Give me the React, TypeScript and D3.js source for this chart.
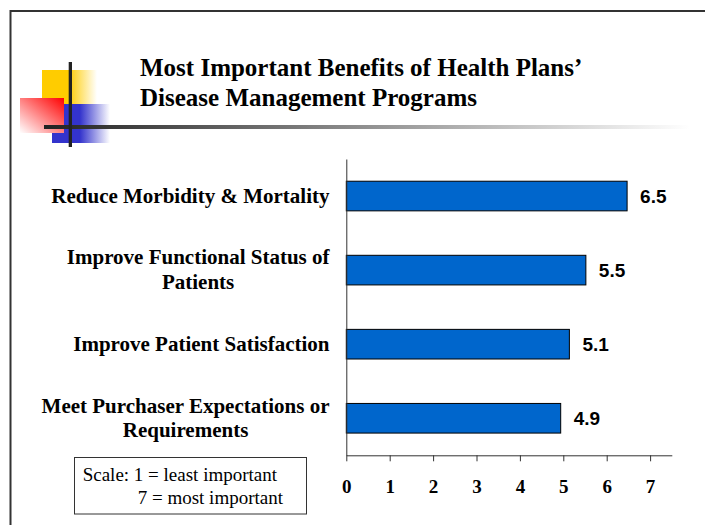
import React, { useEffect, useRef } from "react";
import * as d3 from "d3";

const categories = [
  "Reduce Morbidity & Mortality",
  "Improve Functional Status of\nPatients",
  "Improve Patient Satisfaction",
  "Meet Purchaser Expectations or\nRequirements",
];
const values = [6.47, 5.52, 5.14, 4.94];
const xTicks = [0, 1, 2, 3, 4, 5, 6, 7];
const titleLines = ["Most Important Benefits of Health Plans\u2019", "Disease Management Programs"];
const scaleNote = ["Scale: 1 = least important", "7 = most important"];

const W = 705;
const H = 525;
const SERIF = "'Liberation Serif', 'Times New Roman', Times, serif";
const SANS = "'Liberation Sans', Arial, Helvetica, sans-serif";

export default function App() {
  const ref = useRef<SVGSVGElement | null>(null);

  useEffect(() => {
    const svg = d3.select(ref.current);
    svg.selectAll("*").remove();

    const defs = svg.append("defs");
    const lg = (id: string, x1: string, y1: string, x2: string, y2: string, stops: [number, string][]) => {
      const g = defs.append("linearGradient").attr("id", id)
        .attr("x1", x1).attr("y1", y1).attr("x2", x2).attr("y2", y2);
      stops.forEach(([o, c]) => g.append("stop").attr("offset", o).attr("stop-color", c));
      return g;
    };
    lg("yg", "0", "0", "1", "0", [[0, "#FFCC00"], [0.48, "#FFCC00"], [1, "#FFFFFF"]]);
    lg("bg", "0", "0", "1", "0", [[0, "#3333CC"], [0.48, "#3333CC"], [1, "#FFFFFF"]]);
    lg("rg", "1", "0", "0", "1", [[0, "#FF0000"], [1, "#FFFFFF"]]);
    lg("hg", "44", "0", "690", "0", [[0, "#222222"], [1, "#FFFFFF"]]).attr("gradientUnits", "userSpaceOnUse");

    // frame
    svg.append("line").attr("x1", 10).attr("x2", W).attr("y1", 11).attr("y2", 11)
      .attr("stroke", "#333").attr("stroke-width", 2);
    svg.append("line").attr("x1", 10.5).attr("x2", 10.5).attr("y1", 10).attr("y2", H)
      .attr("stroke", "#333").attr("stroke-width", 2);

    // decoration
    const deco = svg.append("g");
    deco.append("rect").attr("x", 42).attr("y", 70).attr("width", 55).attr("height", 34).attr("fill", "url(#yg)");
    deco.append("rect").attr("x", 52).attr("y", 104).attr("width", 58).attr("height", 39).attr("fill", "url(#bg)");
    deco.append("rect").attr("x", 20).attr("y", 98).attr("width", 44).attr("height", 35).attr("fill", "url(#rg)");
    deco.append("rect").attr("x", 44).attr("y", 125).attr("width", 646).attr("height", 4).attr("fill", "url(#hg)");
    deco.append("rect").attr("x", 68.7).attr("y", 62).attr("width", 3.3).attr("height", 85).attr("fill", "#222");

    // title
    const title = svg.append("text").attr("font-family", SERIF).attr("font-weight", "bold")
      .attr("font-size", 25).attr("fill", "#000");
    titleLines.forEach((t, i) => {
      title.append("tspan").attr("x", 140).attr("y", 76 + i * 30).text(t);
    });

    // scales
    const x = d3.scaleLinear().domain([0, 7.5]).range([346.3, 671.8]);
    const y = d3.scaleBand<string>().domain(categories).range([159, 455.3])
      .paddingInner(0.6).paddingOuter(0.3);

    // bars
    svg.append("g").selectAll("rect").data(values).join("rect")
      .attr("x", x(0))
      .attr("y", (_, i) => y(categories[i])!)
      .attr("width", (d) => x(d) - x(0))
      .attr("height", y.bandwidth())
      .attr("fill", "#0066CC")
      .attr("stroke", "#000")
      .attr("stroke-width", 1);

    // value labels
    const fmt = d3.format(".1f");
    svg.append("g").selectAll("text").data(values).join("text")
      .attr("x", (d) => x(d) + 13)
      .attr("y", (_, i) => y(categories[i])! + y.bandwidth() / 2 + 6.7)
      .attr("font-family", SANS).attr("font-weight", "bold").attr("font-size", 19)
      .attr("fill", "#000")
      .text((d) => fmt(d));

    // y axis line
    const yAxis = svg.append("g").attr("transform", `translate(${x(0)},0)`)
      .call(d3.axisLeft(y).tickSize(0).tickSizeOuter(0).tickFormat(() => ""));
    yAxis.select(".domain").attr("stroke", "#333");
    yAxis.selectAll(".tick").remove();

    // x axis
    const xAxis = svg.append("g").attr("transform", `translate(0,${455.3})`)
      .call(d3.axisBottom(x).tickValues(xTicks).tickSize(6).tickSizeOuter(0).tickFormat(d3.format("d")));
    xAxis.select(".domain").attr("stroke", "#333");
    xAxis.selectAll(".tick line").attr("stroke", "#333");
    xAxis.selectAll(".tick text")
      .attr("y", 37.4).attr("dy", 0)
      .attr("font-family", SERIF).attr("font-weight", "bold").attr("font-size", 19)
      .attr("fill", "#000");

    // category labels
    const rightEdge = 329.5;
    const lineH = 24.5;
    categories.forEach((c) => {
      const lines = c.split("\n");
      const cy = y(c)! + y.bandwidth() / 2;
      const t = svg.append("text").attr("font-family", SERIF).attr("font-weight", "bold")
        .attr("font-size", 21).attr("fill", "#000").attr("text-anchor", "middle");
      const spans = lines.map((ln, i) =>
        t.append("tspan").attr("y", cy - ((lines.length - 1) * lineH) / 2 + 6.5 + i * lineH).text(ln)
      );
      let maxW = 0;
      spans.forEach((s) => {
        const n = s.node() as SVGTSpanElement;
        maxW = Math.max(maxW, n.getComputedTextLength());
      });
      spans.forEach((s) => s.attr("x", rightEdge - maxW / 2));
    });

    // scale note box
    svg.append("rect").attr("x", 74.5).attr("y", 457.5).attr("width", 232).attr("height", 56.5)
      .attr("fill", "#fff").attr("stroke", "#333").attr("stroke-width", 1);
    const note = svg.append("text").attr("font-family", SERIF).attr("font-size", 19).attr("fill", "#000");
    note.append("tspan").attr("x", 82.7).attr("y", 481).text(scaleNote[0]);
    note.append("tspan").attr("x", 137.7).attr("y", 504.3).text(scaleNote[1]);
  }, []);

  return (
    <svg
      ref={ref}
      width={W}
      height={H}
      style={{ position: "absolute", left: 0, top: 0, background: "#fff" }}
    />
  );
}
